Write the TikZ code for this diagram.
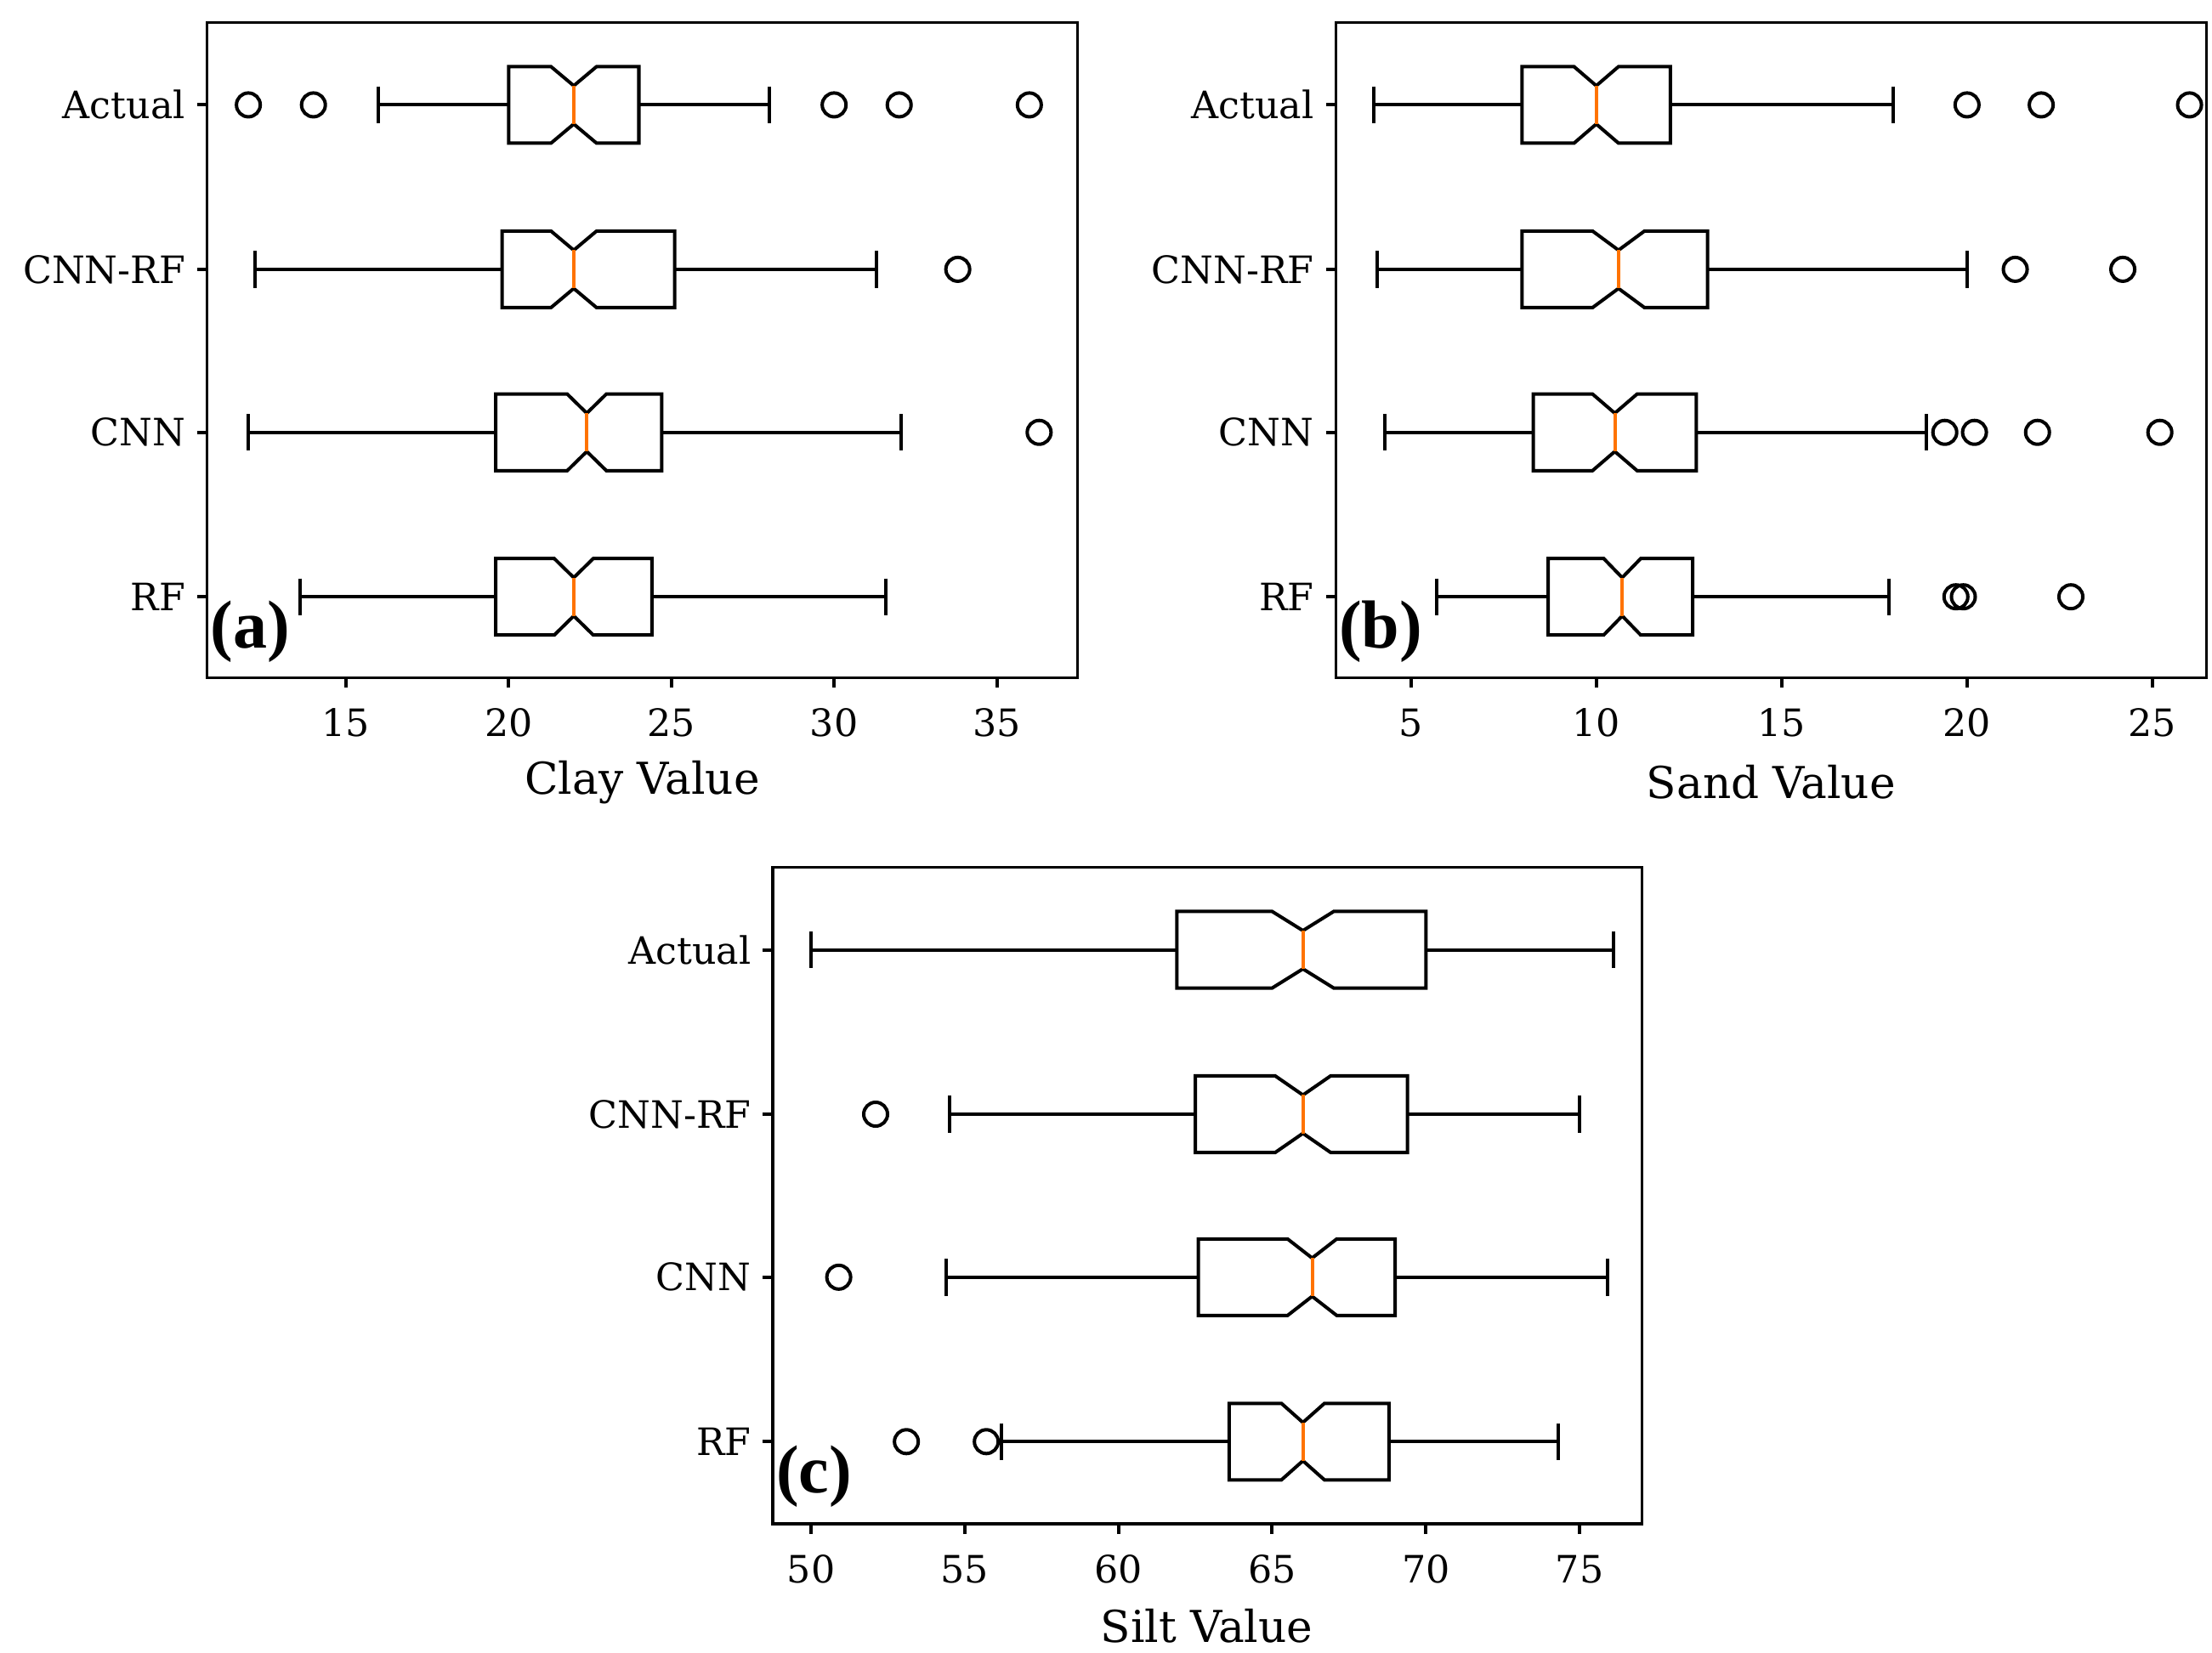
\documentclass[tikz,border=0pt]{standalone}
\usepackage{fontspec}
\setmainfont{DejaVu Serif}
\newfontfamily\lab{Liberation Serif}
\begin{document}
\begin{tikzpicture}[x=0.5pt,y=-0.5pt,
  ln/.style={line width=1.2pt,black},
  tl/.style={font=\fontsize{13.3}{15}\selectfont},
  xl/.style={font=\fontsize{15.5}{18}\selectfont},
  pl/.style={font=\lab\bfseries\fontsize{24}{26}\selectfont,anchor=south west,inner sep=0pt}]
\useasboundingbox (0,0) rectangle (1560,1166);
\newcommand{\bp}[8]{%
  \draw[ln] (#2,#1) -- (#3,#1) (#7,#1) -- (#8,#1) (#2,#1-13) -- (#2,#1+13) (#8,#1-13) -- (#8,#1+13);
  \draw[ln,line join=miter] (#3,#1-27) -- (#3,#1+27) -- (#4,#1+27) -- (#5,#1+13.5) -- (#6,#1+27) -- (#7,#1+27) -- (#7,#1-27) -- (#6,#1-27) -- (#5,#1-13.5) -- (#4,#1-27) -- cycle;
  \draw[line width=1.2pt,orange!90!red] (#5,#1-13.5) -- (#5,#1+13.5);}
\newcommand{\outl}[2]{\foreach \v in {#2} \draw[ln] (\v,#1) circle[radius=4.2pt];}
% Panel a
\begin{scope}[x=11.475pt,xshift=-50.125pt]
\foreach \v in {15,20,...,35}{\draw[ln] (\v,478) -- (\v,485); \node[tl] at (\v,510) {\v};}
\bp{74}{16}{20}{21.3}{22}{22.7}{24}{28} \outl{74}{12,14,30,32,36}
\bp{190}{12.2}{19.8}{21.3}{22}{22.7}{25.1}{31.3} \outl{190}{33.8}
\bp{305}{12}{19.6}{21.8}{22.4}{23.0}{24.7}{32.05} \outl{305}{36.3}
\bp{421}{13.6}{19.6}{21.4}{22}{22.6}{24.4}{31.6}
\end{scope}
\draw[line width=1pt] (146,16) rectangle (760,478);
\foreach \t/\yy in {Actual/74,CNN-RF/190,CNN/305,RF/421}{\draw[ln] (146,\yy) -- (139,\yy); \node[tl,anchor=east,inner sep=0pt] at (131,\yy) {\t};}
\node[xl] at (453,552) {Clay Value};
\node[pl] at (148,468) {(a)};
% Panel b
\begin{scope}[x=13.075pt,xshift=432.125pt]
\foreach \v in {5,10,...,25}{\draw[ln] (\v,478) -- (\v,485); \node[tl] at (\v,510) {\v};}
\bp{74}{4}{8}{9.4}{10}{10.6}{12}{18} \outl{74}{20,22,26}
\bp{190}{4.1}{8}{9.9}{10.6}{11.3}{13}{20} \outl{190}{21.3,24.2}
\bp{305}{4.3}{8.3}{9.9}{10.5}{11.1}{12.7}{18.9} \outl{305}{19.4,20.2,21.9,25.2}
\bp{421}{5.7}{8.7}{10.2}{10.7}{11.2}{12.6}{17.9} \outl{421}{19.7,19.9,22.8}
\end{scope}
\draw[line width=1pt] (942,16) rectangle (1556,478);
\foreach \t/\yy in {Actual/74,CNN-RF/190,CNN/305,RF/421}{\draw[ln] (942,\yy) -- (935,\yy); \node[tl,anchor=east,inner sep=0pt] at (927,\yy) {\t};}
\node[xl] at (1249,552) {Sand Value};
\node[pl] at (944,468) {(b)};
% Panel c
\begin{scope}[x=10.84pt,xshift=-256pt]
\foreach \v in {50,55,...,75}{\draw[ln] (\v,1075) -- (\v,1082); \node[tl] at (\v,1107) {\v};}
\bp{670}{50}{61.9}{65}{66}{67}{70}{76.1}
\bp{786}{54.5}{62.5}{65.1}{66}{66.9}{69.4}{75}\outl{786}{52.1}
\bp{901}{54.4}{62.6}{65.5}{66.3}{67.1}{69}{75.9}\outl{901}{50.9}
\bp{1017}{56.2}{63.6}{65.3}{66}{66.7}{68.8}{74.3}\outl{1017}{53.1,55.7}
\end{scope}
\draw[line width=1pt] (545,612) rectangle (1158,1075);
\foreach \t/\yy in {Actual/670,CNN-RF/786,CNN/901,RF/1017}{\draw[ln] (545,\yy) -- (538,\yy); \node[tl,anchor=east,inner sep=0pt] at (530,\yy) {\t};}
\node[xl] at (851,1147) {Silt Value};
\node[pl] at (547,1064) {(c)};
\end{tikzpicture}
\end{document}
